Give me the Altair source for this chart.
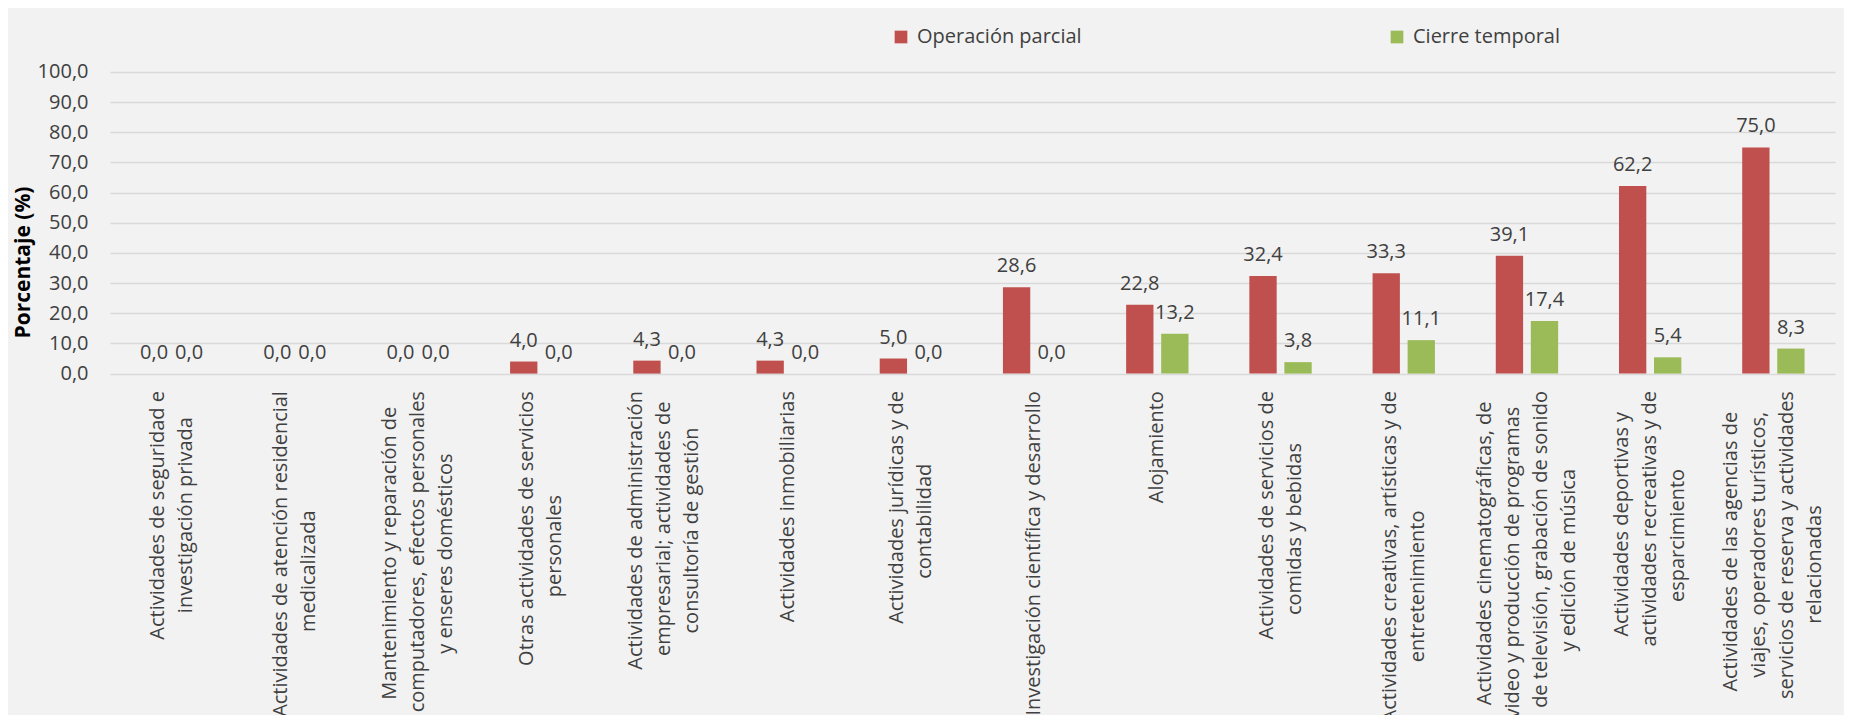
import altair as alt
import pandas as pd

categories = [
    "Actividades de seguridad e\ninvestigación privada",
    "Actividades de atención residencial\nmedicalizada",
    "Mantenimiento y reparación de\ncomputadores, efectos personales\ny enseres domésticos",
    "Otras actividades de servicios\npersonales",
    "Actividades de administración\nempresarial; actividades de\nconsultoría de gestión",
    "Actividades inmobiliarias",
    "Actividades jurídicas y de\ncontabilidad",
    "Investigación científica y desarrollo",
    "Alojamiento",
    "Actividades de servicios de\ncomidas y bebidas",
    "Actividades creativas, artísticas y de\nentretenimiento",
    "Actividades cinematográficas, de\nvideo y producción de programas\nde televisión, grabación de sonido\ny edición de música",
    "Actividades deportivas y\nactividades recreativas y de\nesparcimiento",
    "Actividades de las agencias de\nviajes, operadores turísticos,\nservicios de reserva y actividades\nrelacionadas",
]
series = ["Operación parcial", "Cierre temporal"]
operacion_parcial = [0.0, 0.0, 0.0, 4.0, 4.3, 4.3, 5.0, 28.6, 22.8, 32.4, 33.3, 39.1, 62.2, 75.0]
cierre_temporal = [0.0, 0.0, 0.0, 0.0, 0.0, 0.0, 0.0, 0.0, 13.2, 3.8, 11.1, 17.4, 5.4, 8.3]
colors = ["#C0504D", "#9BBB59"]


def centered(label):
    # pad shorter lines with no-break spaces (kept by a zero-width space at the end)
    # so that the lines of each label look centred, as in the original
    lines = label.split("\n")
    m = max(len(l) for l in lines)
    out = []
    for l in lines:
        k = m - len(l)
        out.append(l + ("\u00a0" * k + "\u200b" if k > 0 else ""))
    return "\n".join(out)


axis_labels = [centered(c) for c in categories]

rows = []
for i, c in enumerate(axis_labels):
    for s, vals in zip(series, [operacion_parcial, cierre_temporal]):
        v = vals[i]
        rows.append({"cat": c, "serie": s, "valor": v,
                     "etiqueta": f"{v:.1f}".replace(".", ",")})
df = pd.DataFrame(rows)

FONT = "Open Sans"
TXT = "#404040"
LH = 28

nlines = "length(split(datum.value, '\\n'))"
label_offset = {
    "condition": [
        {"test": f"{nlines} == 2", "value": -LH / 2},
        {"test": f"{nlines} == 3", "value": -LH},
        {"test": f"{nlines} == 4", "value": -1.5 * LH},
    ],
    "value": 0,
}

x = alt.X("cat:N", sort=axis_labels, title=None,
          scale=alt.Scale(paddingInner=0.494, paddingOuter=0.247),
          axis=alt.Axis(labelAngle=270, labelAlign="right", labelBaseline="middle",
                        labelPadding=17, ticks=False, domain=False,
                        labelExpr="split(datum.label, '\\n')",
                        labelOffset=label_offset,
                        labelLineHeight=LH, labelLimit=1000,
                        labelFontSize=20, labelFont=FONT, labelColor=TXT))
xo = alt.XOffset("serie:N", sort=series, scale=alt.Scale(paddingInner=0.22))
y = alt.Y("valor:Q", title="Porcentaje (%)",
          scale=alt.Scale(domain=[0, 100], nice=False),
          axis=alt.Axis(values=list(range(0, 101, 10)),
                        labelExpr="replace(format(datum.value, '.1f'), '.', ',')",
                        labelPadding=22, ticks=False, domain=False,
                        labelFontSize=20, labelFont=FONT, labelColor=TXT,
                        gridColor="#d9d9d9", gridWidth=1.5,
                        titleFont=FONT, titleFontSize=21, titleFontWeight="bold",
                        titleColor="#000000", titleX=-87, titleY=190,
                        titleBaseline="middle", titleAlign="center", titleAngle=270))
color = alt.Color("serie:N", sort=series,
                  scale=alt.Scale(domain=series, range=colors),
                  legend=alt.Legend(title=None, orient="none", direction="horizontal",
                                    legendX=781, legendY=-45,
                                    symbolType="square", symbolSize=161,
                                    symbolStrokeWidth=0, labelOffset=6,
                                    columnPadding=305, labelLimit=600,
                                    labelFont=FONT, labelFontSize=20, labelColor=TXT))

bars = alt.Chart(df).mark_bar().encode(x=x, xOffset=xo, y=y, color=color)
labels = alt.Chart(df).mark_text(baseline="alphabetic", dy=-15, font=FONT,
                                 fontSize=20, color=TXT).encode(
    x=x, xOffset=xo, y=y, text="etiqueta:N")

chart = alt.layer(bars, labels).properties(
    width=1725, height=301.6,
    autosize=alt.AutoSizeParams(type="none"),
    padding={"left": 102, "top": 64, "right": 9, "bottom": 341},
    background="#f2f2f2",
).configure_view(stroke=None)

chart.save("out.html", embed_options={"renderer": "svg", "actions": False})
